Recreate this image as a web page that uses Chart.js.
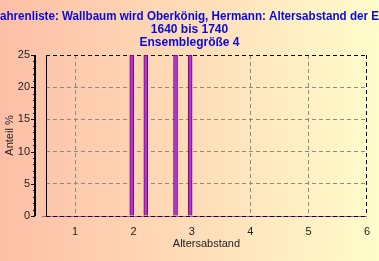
<!DOCTYPE html>
<html>
<head>
<meta charset="utf-8">
<script src="https://cdn.jsdelivr.net/npm/chart.js@4/dist/chart.umd.min.js"></script>
<style>
html,body{margin:0;padding:0}
#wrap{width:379px;height:261px;background:linear-gradient(to right,#fcbfa6 0%,#ffdcb8 50%,#fffdcc 100%)}
</style>
</head>
<body>
<div id="wrap"><canvas id="c" width="379" height="261"></canvas></div>
<script>
// Altersabstand der Ensemble-Mitglieder (Jahre) und Anteil in %
const abstand = [1.97, 2.21, 2.72, 2.97]
const anteil = [25, 25, 25, 25]
const xTicks = [1, 2, 3, 4, 5, 6]
const yTicks = [0, 5, 10, 15, 20, 25]
const titel = [
"ahrenliste: Wallbaum wird Oberkönig, Hermann: Altersabstand der E",
"1640 bis 1740",
"Ensemblegröße 4"
]

const bars = abstand.map((a,i)=>({x:a,y:anteil[i]}))

// separate Y-Achse links neben dem Plotbereich, linker Rahmen, Nulllinie
const achse = {
id:"achse",
afterDraw(chart){
const ctx=chart.ctx
const y=chart.scales.y
const a=chart.chartArea
const ax=a.left-11
const p0=Math.round(y.getPixelForValue(0))+0.5
ctx.save()
ctx.strokeStyle="#d040d0"
ctx.lineWidth=1
ctx.beginPath()
ctx.moveTo(a.left-4,p0)
ctx.lineTo(a.right,p0)
ctx.stroke()
ctx.strokeStyle="#000"
ctx.setLineDash([4,3])
ctx.beginPath()
ctx.moveTo(a.left,p0)
ctx.lineTo(a.right,p0)
ctx.stroke()
ctx.setLineDash([])
ctx.lineWidth=2
ctx.beginPath()
ctx.moveTo(ax,y.getPixelForValue(25))
ctx.lineTo(ax,y.getPixelForValue(0))
ctx.stroke()
ctx.lineWidth=1
yTicks.forEach(v=>{
const p=Math.round(y.getPixelForValue(v))+0.5
ctx.beginPath()
ctx.moveTo(ax-4,p)
ctx.lineTo(ax,p)
ctx.stroke()
})
for(let v=0;v<=25;v++){
const p=Math.round(y.getPixelForValue(v))+0.5
ctx.beginPath()
ctx.moveTo(ax-2,p)
ctx.lineTo(ax,p)
ctx.stroke()
}
const lx=Math.round(a.left)+0.5
ctx.beginPath()
ctx.moveTo(lx,a.top)
ctx.lineTo(lx,a.bottom)
ctx.stroke()
ctx.restore()
}
}

new Chart(
document.getElementById("c"),
{
type:"bar",
data:{
datasets:[
{
label:"Anteil",
data:bars,
backgroundColor:"#c030cc",
borderColor:"#5a1070",
borderWidth:1,
barThickness:4
}
]
},
options:{
responsive:false,
animation:false,
layout:{padding:0},
plugins:{
legend:{display:false},
tooltip:{enabled:false},
title:{
display:true,
text:titel,
color:"#0a0ad8",
font:{family:"Liberation Sans",size:12,weight:"bold",lineHeight:13/12},
padding:{top:10,bottom:6}
}
},
scales:{
x:{
type:"linear",
offset:false,
min:0.5,
max:6,
afterBuildTicks(s){ s.ticks=xTicks.map(v=>({value:v})) },
afterFit(s){ s.height=45 },
grid:{
offset:false,
color:c=>c.tick&&c.tick.value===6?"#000":"#8a8a8a",
drawTicks:false,
lineWidth:1
},
border:{display:false,dash:[4,3]},
ticks:{color:"#222",padding:9,font:{family:"Liberation Sans",size:11}},
title:{display:true,text:"Altersabstand",color:"#222",font:{family:"Liberation Sans",size:11},padding:{top:0,bottom:10}}
},
y:{
min:0,
max:25,
afterBuildTicks(s){ s.ticks=yTicks.map(v=>({value:v})) },
afterFit(s){ s.width=46 },
grid:{
color:c=>c.tick&&(c.tick.value===25||c.tick.value===0)?"#000":"#8a8a8a",
drawTicks:false,
lineWidth:1
},
border:{display:false,dash:[4,3]},
ticks:{color:"#222",padding:16,font:{family:"Liberation Sans",size:11}},
title:{display:true,text:"Anteil %",color:"#222",font:{family:"Liberation Sans",size:11},padding:{top:3,bottom:0}}
}
}
},
plugins:[achse]
}
)
</script>
</body>
</html>
